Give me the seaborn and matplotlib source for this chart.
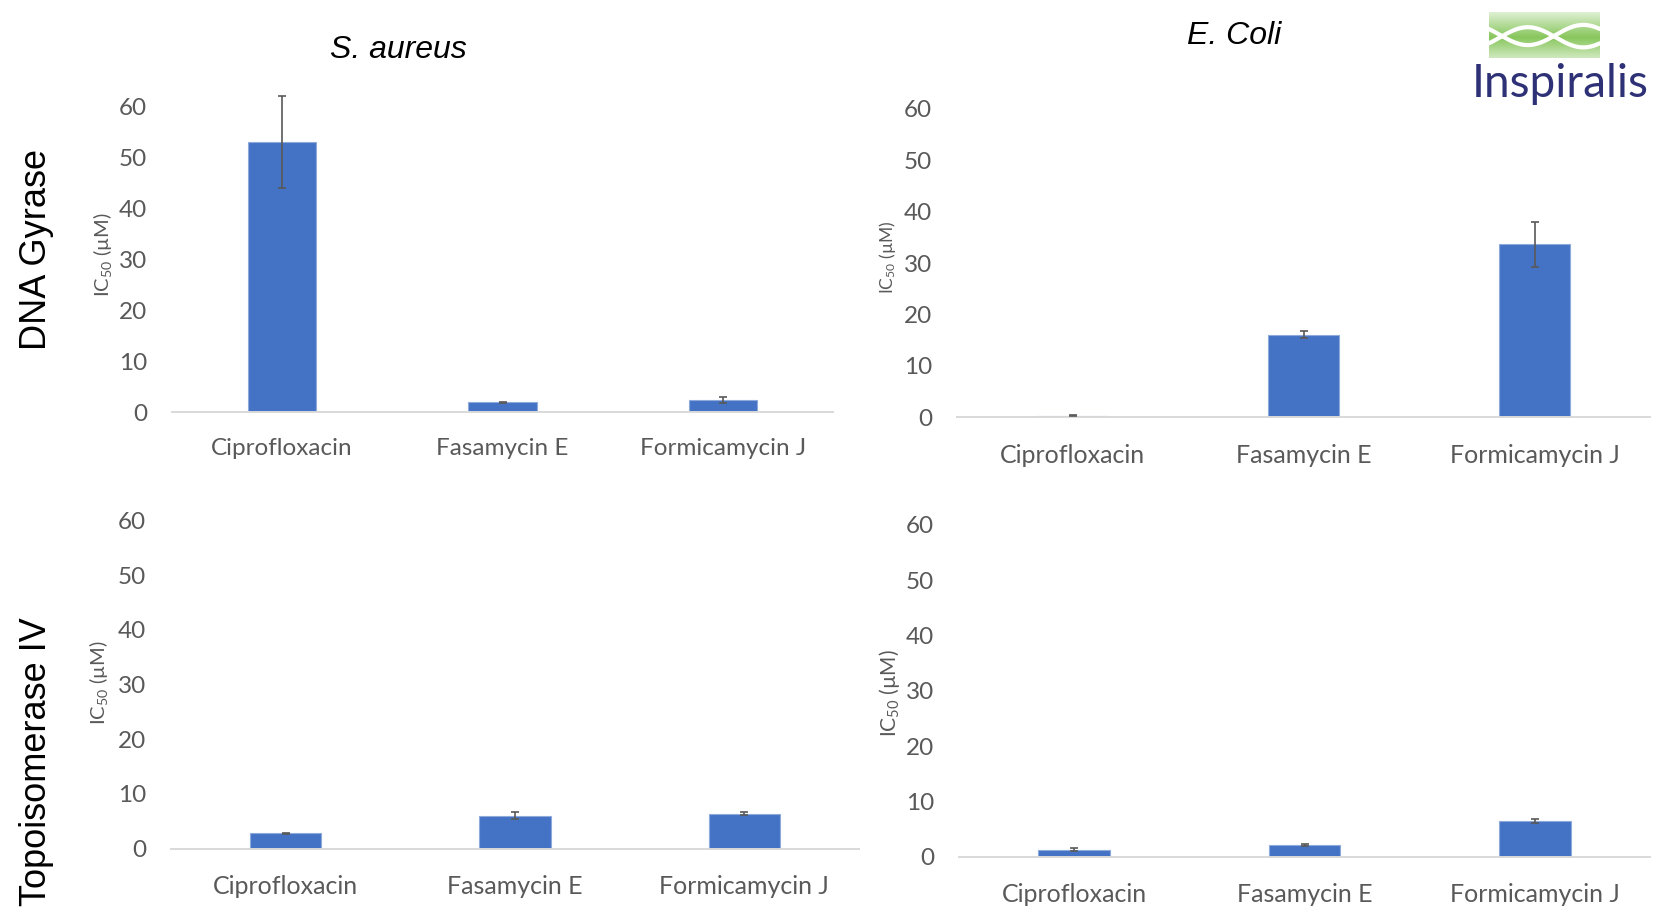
import numpy as np
import pandas as pd
import matplotlib
matplotlib.use("Agg")
import matplotlib.pyplot as plt
import seaborn as sns

# IC50 values (µM) with error bars for each enzyme / organism
categories = ["Ciprofloxacin", "Fasamycin E", "Formicamycin J"]

gyrase_saureus = [53.0, 1.9, 2.3]
gyrase_saureus_err = [9.0, 0.12, 0.6]

gyrase_ecoli = [0.3, 16.1, 33.6]
gyrase_ecoli_err = [0.08, 0.75, 4.4]

topo_saureus = [2.8, 6.0, 6.4]
topo_saureus_err = [0.12, 0.65, 0.3]

topo_ecoli = [1.3, 2.2, 6.5]
topo_ecoli_err = [0.3, 0.15, 0.3]

yticks = [0, 10, 20, 30, 40, 50, 60]

organisms = ["S. aureus", "E. Coli"]
enzymes = ["DNA Gyrase", "Topoisomerase IV"]

sns.set_theme(style="white")
plt.rcParams["font.family"] = ["Lato", "DejaVu Sans"]
plt.rcParams["mathtext.default"] = "regular"

W, H = 1653, 907
fig = plt.figure(figsize=(W / 100, H / 100), dpi=100)
fig.patch.set_facecolor("white")


def box(x0, y0, x1, y1):
    """Axes rectangle from pixel edges (origin top-left)."""
    return [x0 / W, 1 - y1 / H, (x1 - x0) / W, (y1 - y0) / H]


def fpos(x, y):
    return x / W, 1 - y / H


BAR = "#4472C4"
GREY = "#595959"

panels = [
    (box(172, 106.5, 833, 412.0), gyrase_saureus, gyrase_saureus_err, 17.5, (102, 255), 14.5),
    (box(957, 108.6, 1650, 417.4), gyrase_ecoli, gyrase_ecoli_err, 18, (887, 257), 12.5),
    (box(171, 520.7, 859, 848.5), topo_saureus, topo_saureus_err, 18, (98, 683), 14.5),
    (box(959, 524.9, 1650, 856.9), topo_ecoli, topo_ecoli_err, 18, (890, 693), 15),
]

for rect, vals, errs, fs, lab_xy, lab_fs in panels:
    ax = fig.add_axes(rect)
    df = pd.DataFrame({"compound": categories, "ic50": vals})
    sns.barplot(data=df, x="compound", y="ic50", ax=ax, color=BAR,
                saturation=1, width=0.31, errorbar=None,
                edgecolor="#8eaadb", linewidth=0.8)
    ax.errorbar(np.arange(len(categories)), vals, yerr=errs, fmt="none",
                ecolor=GREY, elinewidth=1.2, capsize=2.7, capthick=1.2,
                zorder=5, clip_on=False)
    ax.set_xlim(-0.5, 2.5)
    ax.set_ylim(0, 60)
    ax.set_yticks(yticks)
    ax.set_xlabel("")
    ax.set_ylabel("")
    for s in ["top", "right", "left"]:
        ax.spines[s].set_visible(False)
    ax.spines["bottom"].set_color("#d9d9d9")
    ax.spines["bottom"].set_linewidth(1.4)
    ax.tick_params(axis="y", length=0, pad=18, labelsize=17.5, labelcolor=GREY)
    ax.tick_params(axis="x", length=0, pad=19, labelsize=fs, labelcolor=GREY)
    ax.patch.set_alpha(0)
    fig.text(*fpos(*lab_xy), "IC$_{50}$ (µM)", rotation=90, ha="center",
             va="center", fontsize=lab_fs, color=GREY)

# column titles
fig.text(*fpos(398, 50), organisms[0], fontsize=23, style="italic",
         family="Liberation Sans", ha="center", va="center", color="black")
fig.text(*fpos(1234, 36), organisms[1], fontsize=23, style="italic",
         family="Liberation Sans", ha="center", va="center", color="black")

# row labels
fig.text(*fpos(37, 249), enzymes[0], fontsize=26, rotation=90,
         family="Liberation Sans", ha="center", va="center", color="black")
fig.text(*fpos(37, 617), enzymes[1], fontsize=26, rotation=90,
         family="Liberation Sans", ha="center", va="top", color="black")

# logo: green wave emblem with wordmark
lax = fig.add_axes(box(1489, 12, 1600, 58))
ny, nx = 60, 150
yy = np.linspace(0, 1, ny)[:, None]
xx = np.linspace(0, 1, nx)[None, :]
green = np.array([0.45, 0.74, 0.25])
img = np.ones((ny, nx, 4))
img[..., :3] = green
alpha = np.clip(0.15 + 0.7 * (1 - np.abs(yy - 0.55) * 1.6) + 0 * xx, 0, 1)
img[..., 3] = alpha
lax.imshow(img, extent=[0, 1, 0, 1], aspect="auto", origin="upper")
t = np.linspace(0, 1, 200)
lax.plot(t, 0.45 + 0.22 * np.cos(2 * np.pi * (t - 0.35)), color="white", lw=3)
lax.plot(t, 0.45 - 0.22 * np.cos(2 * np.pi * (t - 0.35)) + 0.05, color="white", lw=3)
lax.set_xlim(0, 1)
lax.set_ylim(0, 1)
lax.axis("off")
fig.text(*fpos(1560, 84), "Inspiralis", fontsize=33, color="#2e3175",
         ha="center", va="center")

fig.savefig("out.png", dpi=100, facecolor="white")
